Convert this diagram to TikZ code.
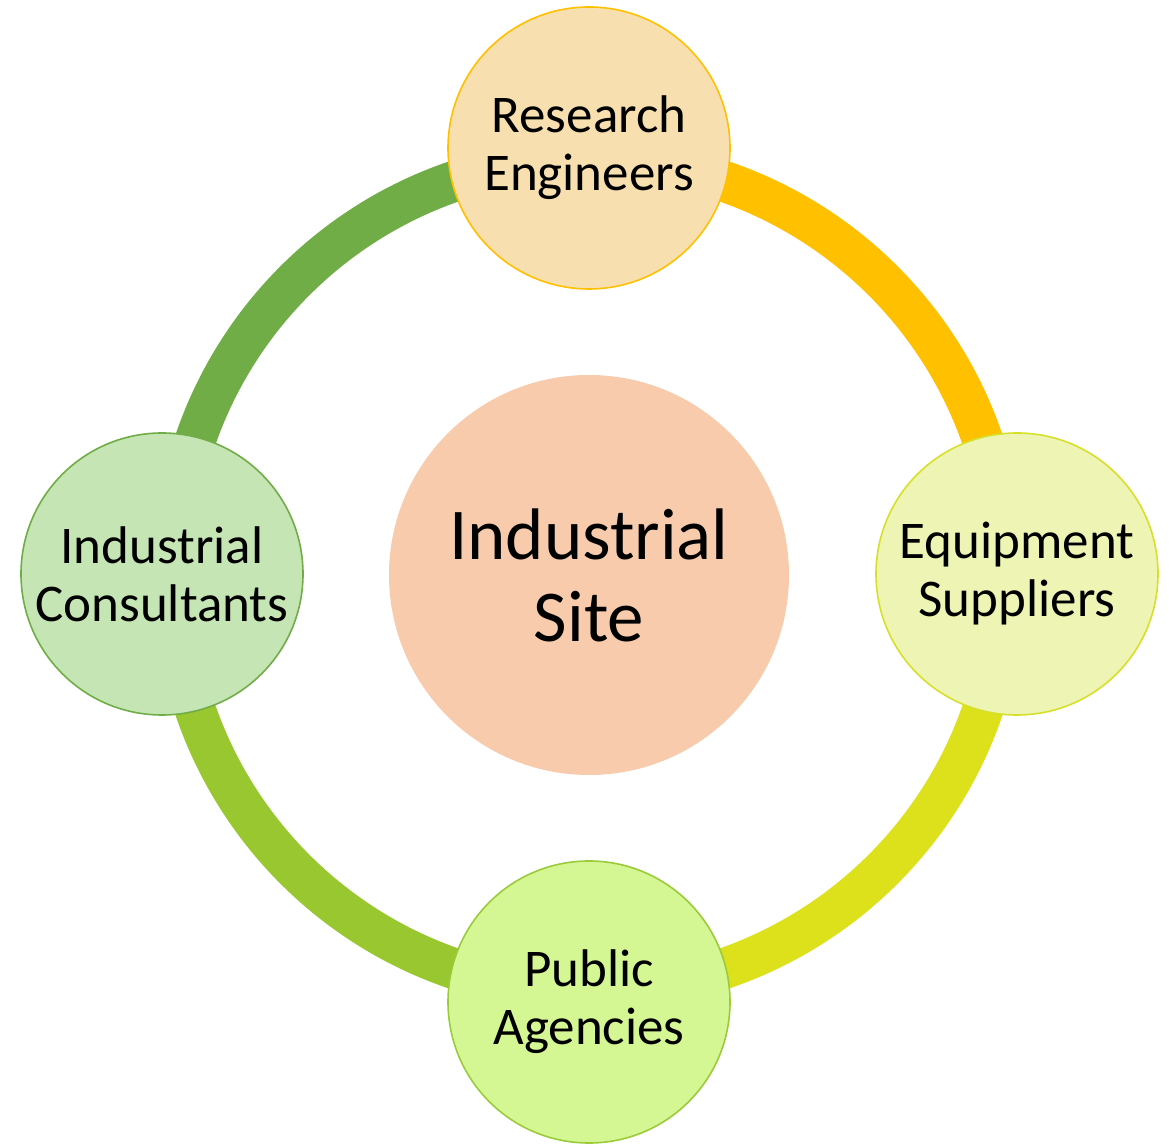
\documentclass[tikz,border=0pt]{standalone}
\usepackage{fontspec}
\setmainfont{Carlito}
\definecolor{hubfill}{HTML}{F7CBAC}
\definecolor{rsfill}{HTML}{F8DFB0}
\definecolor{rsline}{HTML}{FFC000}
\definecolor{eqfill}{HTML}{EEF5B4}
\definecolor{eqline}{HTML}{D6E028}
\definecolor{pafill}{HTML}{D4F794}
\definecolor{paline}{HTML}{9BCB3A}
\definecolor{icfill}{HTML}{C5E5B5}
\definecolor{icline}{HTML}{70AD47}
\definecolor{arcNE}{HTML}{FFC000}
\definecolor{arcSE}{HTML}{DCE11B}
\definecolor{arcSW}{HTML}{98C72F}
\definecolor{arcNW}{HTML}{70AD47}
\begin{document}
\begin{tikzpicture}[x=1pt,y=1pt,
  sat/.style={draw,circle,line width=1.6pt,minimum size=282pt,inner sep=0pt,align=center,font=\fontsize{53}{58}\selectfont},
  ring/.style={line width=41pt}]
\useasboundingbox (0,0) rectangle (1169,1145);
\node[circle,fill=hubfill,minimum size=400pt,inner sep=0pt,align=center,font=\fontsize{73}{82}\selectfont] (hub) at (589,570) {Industrial\\Site};
% points on the ring
\path (hub.center) ++(90:416) coordinate (pN);
\path (hub.center) ++(0:416) coordinate (pE);
\path (hub.center) ++(-90:416) coordinate (pS);
\path (hub.center) ++(180:416) coordinate (pW);
\draw[ring,arcNE] (pN) arc[start angle=90,end angle=0,radius=416pt];
\draw[ring,arcSE] (pE) arc[start angle=0,end angle=-90,radius=416pt];
\draw[ring,arcSW] (pS) arc[start angle=270,end angle=180,radius=416pt];
\draw[ring,arcNW] (pW) arc[start angle=180,end angle=90,radius=416pt];
% the four partners
\node[sat,fill=rsfill,draw=rsline] (research) at (589,997) {Research\\Engineers};
\node[sat,fill=eqfill,draw=eqline] (equip) at (1017,571) {Equipment\\Suppliers};
\node[sat,fill=pafill,draw=paline] (public) at (589,143) {Public\\Agencies};
\node[sat,fill=icfill,draw=icline] (consult) at (162,571) {Industrial\\Consultants};
\end{tikzpicture}
\end{document}
